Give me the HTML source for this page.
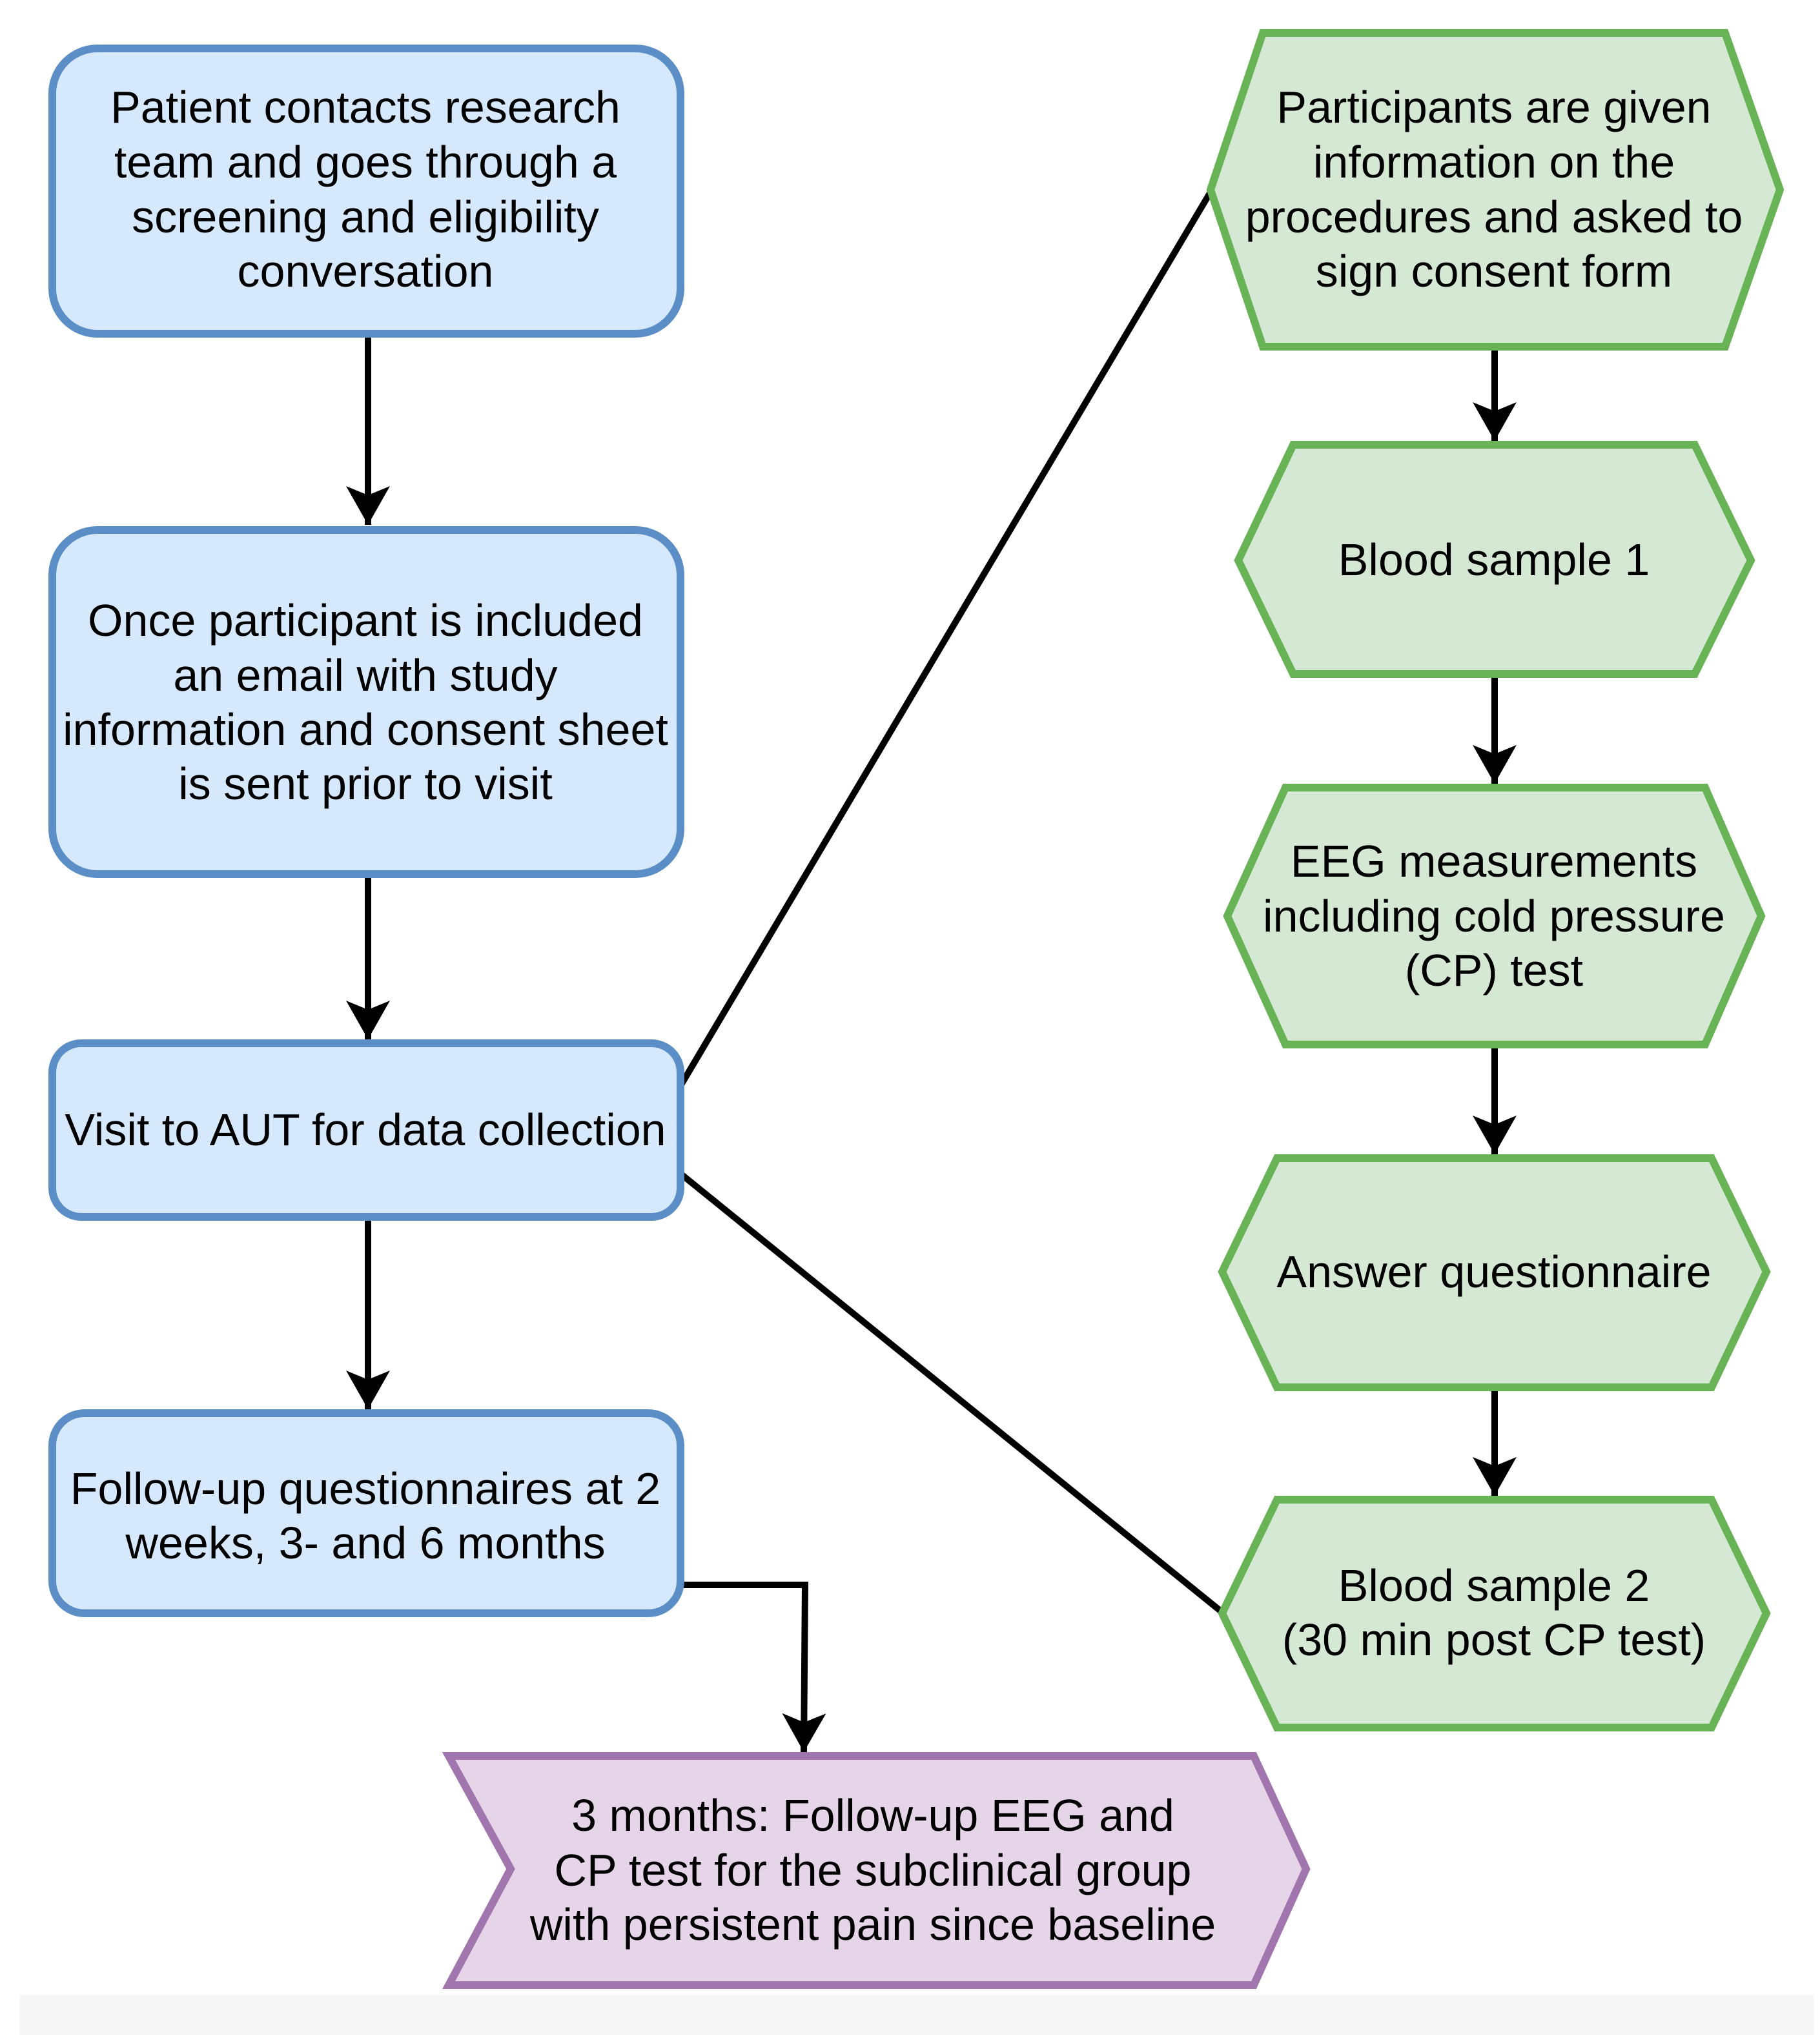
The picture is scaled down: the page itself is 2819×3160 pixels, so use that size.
<!DOCTYPE html>
<html><head><meta charset="utf-8"><style>
html,body{margin:0;padding:0;background:#fff;}
svg{display:block}
text{font-family:"Liberation Sans",Arial,sans-serif;font-size:70px;fill:#000;text-anchor:middle}
</style></head><body>
<svg width="2819" height="3160" viewBox="0 0 2819 3160" xmlns="http://www.w3.org/2000/svg">
<defs>
<marker id="a" markerUnits="userSpaceOnUse" markerWidth="70" markerHeight="70" refX="60" refY="34" orient="auto">
<path d="M0,0 L60,34 L0,68 L14,34 Z" fill="#000"/>
</marker>
</defs>
<rect x="30" y="3090" width="2780" height="62" fill="#f7f7f7"/>
<g stroke="#000" stroke-width="10" fill="none">
<line x1="570" y1="517" x2="570" y2="813" marker-end="url(#a)"/>
<line x1="570" y1="1354" x2="570" y2="1610" marker-end="url(#a)"/>
<line x1="570" y1="1885" x2="570" y2="2183" marker-end="url(#a)"/>
<polyline points="1054,2455 1247,2455 1245,2714" marker-end="url(#a)"/>
<line x1="2315" y1="537" x2="2315" y2="683" marker-end="url(#a)"/>
<line x1="2315" y1="1044" x2="2315" y2="1214" marker-end="url(#a)"/>
<line x1="2315" y1="1618" x2="2315" y2="1788" marker-end="url(#a)"/>
<line x1="2315" y1="2149" x2="2315" y2="2317" marker-end="url(#a)"/>
<line x1="1054" y1="1682" x2="1877" y2="294"/>
<line x1="1054" y1="1818" x2="1895" y2="2499"/>
</g>
<g fill="#d6e8fc" stroke="#5b8ec6" stroke-width="12">
<rect x="81" y="75" width="973" height="442" rx="70"/>
<rect x="81" y="821" width="973" height="533" rx="70"/>
<rect x="81" y="1616" width="973" height="269" rx="45"/>
<rect x="81" y="2189" width="973" height="310" rx="50"/>
</g>
<g fill="#d5e8d4" stroke="#68b356" stroke-width="12">
<polygon points="1875,294 1956,51 2672,51 2757,294 2672,537 1956,537"/>
<polygon points="1918,868 2003,689 2625,689 2712,868 2625,1044 2003,1044"/>
<polygon points="1901,1419 1991,1220 2641,1220 2728,1419 2641,1618 1991,1618"/>
<polygon points="1893,1970 1978,1794 2651,1794 2736,1970 2651,2149 1978,2149"/>
<polygon points="1893,2499 1978,2323 2651,2323 2736,2499 2651,2676 1978,2676"/>
</g>
<polygon points="695,2720 1942,2720 2023,2895 1942,3075 695,3075 791,2895" fill="#e6d5e8" stroke="#a175ad" stroke-width="12"/>
<text x="566" y="190">Patient contacts research</text>
<text x="566" y="275">team and goes through a</text>
<text x="566" y="360">screening and eligibility</text>
<text x="566" y="444">conversation</text>
<text x="566" y="985">Once participant is included</text>
<text x="566" y="1070">an email with study</text>
<text x="566" y="1154">information and consent sheet</text>
<text x="566" y="1238">is sent prior to visit</text>
<text x="566" y="1774">Visit to AUT for data collection</text>
<text x="566" y="2330">Follow-up questionnaires at 2</text>
<text x="566" y="2414">weeks, 3- and 6 months</text>
<text x="2314" y="190">Participants are given</text>
<text x="2314" y="275">information on the</text>
<text x="2314" y="360">procedures and asked to</text>
<text x="2314" y="444">sign consent form</text>
<text x="2314" y="891">Blood sample 1</text>
<text x="2314" y="1358">EEG measurements</text>
<text x="2314" y="1443">including cold pressure</text>
<text x="2314" y="1527">(CP) test</text>
<text x="2314" y="1994">Answer questionnaire</text>
<text x="2314" y="2480">Blood sample 2</text>
<text x="2314" y="2564">(30 min post CP test)</text>
<text x="1352" y="2836">3 months: Follow-up EEG and</text>
<text x="1352" y="2921">CP test for the subclinical group</text>
<text x="1352" y="3005">with persistent pain since baseline</text>
</svg>
</body></html>
